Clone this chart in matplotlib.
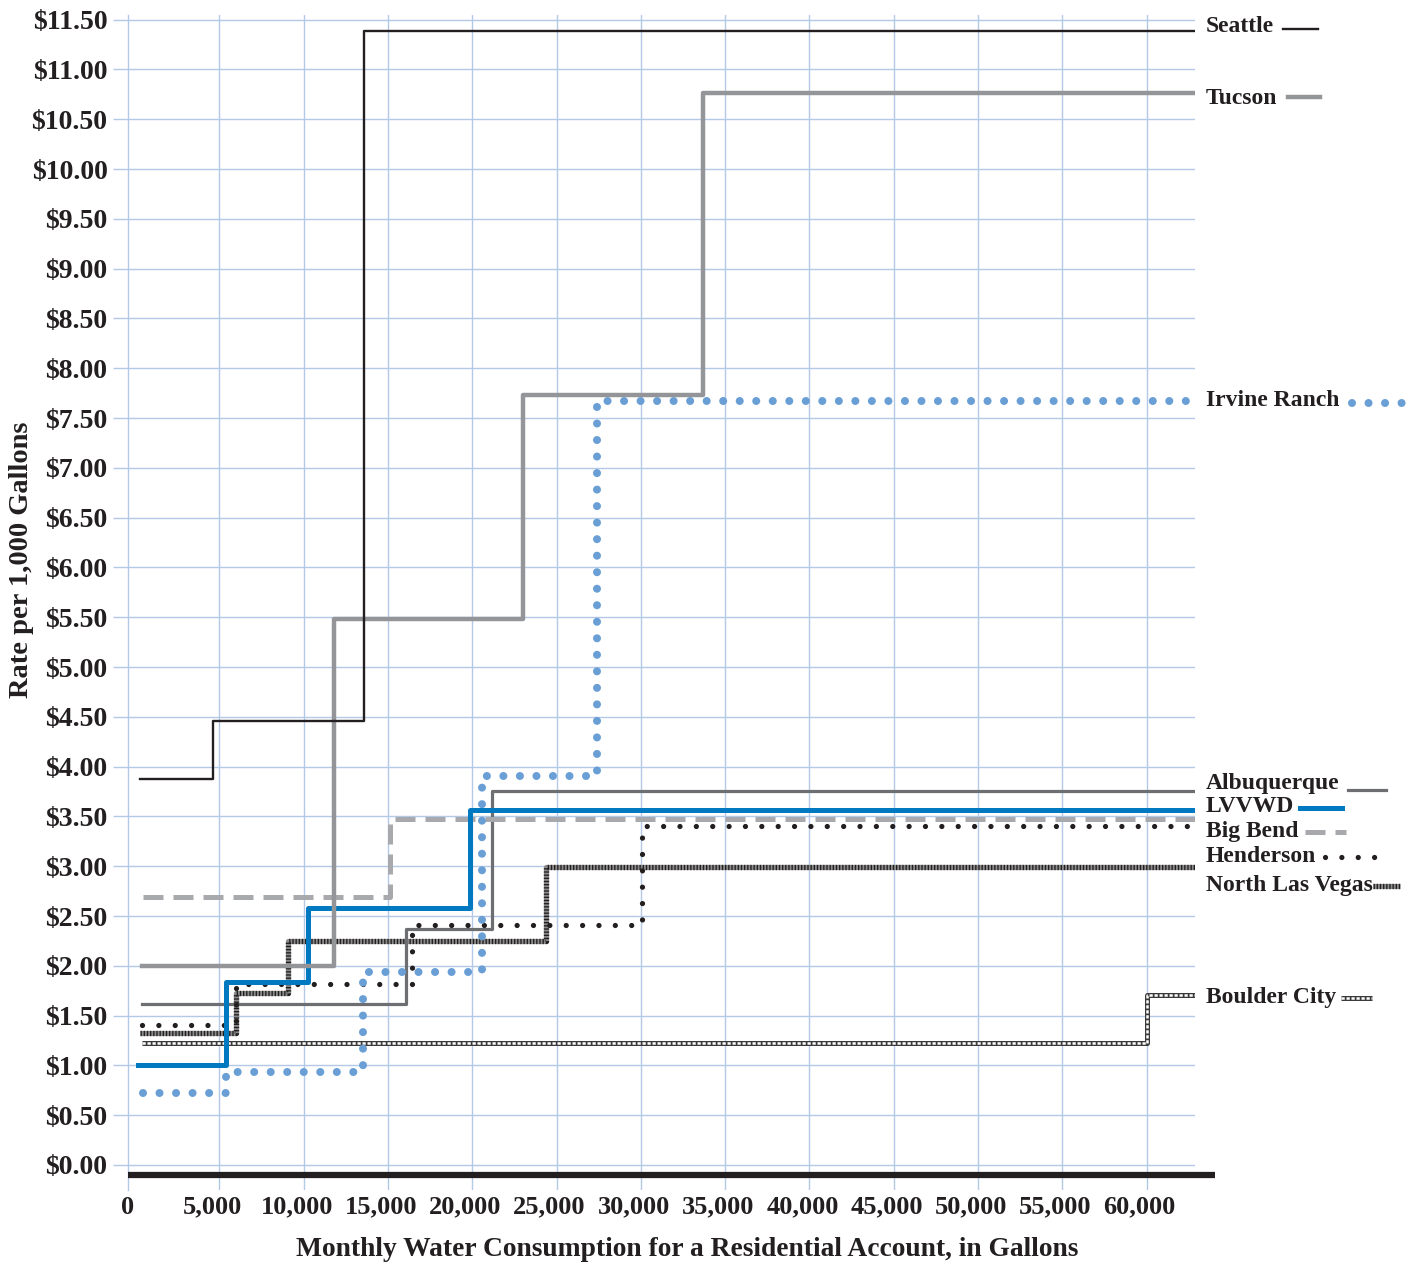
import numpy as np
import matplotlib
matplotlib.use("Agg")
import matplotlib.pyplot as plt
from matplotlib.transforms import ScaledTranslation, IdentityTransform
from matplotlib.lines import Line2D

plt.rcParams['font.family'] = ['Liberation Serif', 'DejaVu Serif']
plt.rcParams['font.weight'] = 'bold'

# ---------------- data ----------------
x_end = 62900
x_ticks = [0, 5000, 10000, 15000, 20000, 25000, 30000, 35000, 40000,
           45000, 50000, 55000, 60000]
y_ticks = [0.0, 0.5, 1.0, 1.5, 2.0, 2.5, 3.0, 3.5, 4.0, 4.5, 5.0, 5.5,
           6.0, 6.5, 7.0, 7.5, 8.0, 8.5, 9.0, 9.5, 10.0, 10.5, 11.0, 11.5]

seattle_edges = [300, 4630, 13600, x_end]
seattle_rates = [3.88, 4.46, 11.39]

tucson_edges = [400, 11800, 23000, 33700, x_end]
tucson_rates = [2.00, 5.48, 7.73, 10.76]

irvine_edges = [470, 5400, 13500, 20600, 27400, x_end]
irvine_rates = [0.72, 0.93, 1.94, 3.91, 7.67]

lvvwd_edges = [200, 5400, 10250, 19850, x_end]
lvvwd_rates = [1.00, 1.84, 2.58, 3.56]

bigbend_edges = [470, 15100, x_end]
bigbend_rates = [2.69, 3.47]

albuq_edges = [400, 16050, 21200, x_end]
albuq_rates = [1.62, 2.37, 3.76]

henderson_edges = [400, 6000, 16400, 30100, x_end]
henderson_rates = [1.41, 1.82, 2.41, 3.40]

nlv_edges = [300, 6000, 9050, 24400, x_end]
nlv_rates = [1.33, 1.73, 2.25, 2.99]

boulder_edges = [400, 60000, x_end]
boulder_rates = [1.22, 1.71]

# ---------------- figure ----------------
W, H = 1419, 1267
fig = plt.figure(figsize=(W / 100, H / 100), dpi=100)
ax_l, ax_r, ax_t, ax_b = 128, 1195, 15, 1190
ax = fig.add_axes([ax_l / W, 1 - ax_b / H, (ax_r - ax_l) / W, (ax_b - ax_t) / H])

px_per_x = 84.3 / 5000.0
x0_px = 135
ax.set_xlim((ax_l - x0_px) / px_per_x, (ax_r - x0_px) / px_per_x)
px_per_y = 99.6
ax.set_ylim(-(ax_b - 1165) / px_per_y, 11.5 + (1165 - 11.5 * px_per_y - ax_t) / px_per_y)

grid_c = '#b3c9e8'
ink = '#231f20'
for s in ['top', 'right', 'bottom']:
    ax.spines[s].set_visible(False)
ax.spines['left'].set_color(grid_c)
ax.spines['left'].set_linewidth(1.0)

ax.set_xticks(x_ticks)
ax.set_xticklabels([f"{v:,}" for v in x_ticks])
ax.set_yticks(y_ticks)
ax.set_yticklabels([f"${v:.2f}" for v in y_ticks])
ax.tick_params(axis='y', length=10.8, width=1.0, color=grid_c, pad=4,
               labelsize=20, labelcolor=ink)
ax.tick_params(axis='x', length=0, pad=4, labelsize=19, labelcolor=ink)
for lbl in ax.get_xticklabels():
    lbl.set_transform(lbl.get_transform() + ScaledTranslation(-7 / 100, 0, fig.dpi_scale_trans))

for xv in x_ticks[1:]:
    ax.axvline(xv, color=grid_c, lw=1.0, zorder=0)
for yv in y_ticks:
    ax.axhline(yv, color=grid_c, lw=1.0, zorder=0)

# baseline
ax.axhline(-0.1, xmin=0, xmax=(1215 - ax_l) / (ax_r - ax_l), color=ink,
           lw=4.5, clip_on=False, zorder=5, solid_capstyle='butt')


def step_xy(edges, rates):
    e = np.asarray(edges, float)
    r = np.asarray(rates, float)
    xs = np.repeat(e, 2)[1:-1]
    ys = np.repeat(r, 2)
    return xs, ys


styles = {}
styles['boulder'] = [dict(color='#3a3a3a', lw=3.6, solid_capstyle='butt'),
                     dict(color='white', lw=1.8, linestyle=(0, (1.3, 0.7)), dash_capstyle='butt')]
styles['nlv'] = [dict(color='#8a8a8a', lw=3.8, solid_capstyle='butt'),
                 dict(color=ink, lw=3.8, linestyle=(0, (0.25, 0.35)), dash_capstyle='butt')]
styles['albuq'] = [dict(color='#6d6e71', lw=2.3)]
styles['henderson'] = [dict(color=ink, lw=3.8, linestyle=(0, (0.001, 3.1)), dash_capstyle='round')]
styles['bigbend'] = [dict(color='#a7a9ac', lw=3.6, linestyle=(0, (4, 2)), dash_capstyle='butt')]
styles['lvvwd'] = [dict(color='#0079c1', lw=3.6)]
styles['irvine'] = [dict(color='#6a9fd6', lw=5.8, linestyle=(0, (0.001, 2.05)), dash_capstyle='round')]
styles['tucson'] = [dict(color='#939598', lw=3.2)]
styles['seattle'] = [dict(color=ink, lw=1.7)]

series = [
    ('boulder', boulder_edges, boulder_rates),
    ('nlv', nlv_edges, nlv_rates),
    ('albuq', albuq_edges, albuq_rates),
    ('henderson', henderson_edges, henderson_rates),
    ('bigbend', bigbend_edges, bigbend_rates),
    ('lvvwd', lvvwd_edges, lvvwd_rates),
    ('irvine', irvine_edges, irvine_rates),
    ('tucson', tucson_edges, tucson_rates),
    ('seattle', seattle_edges, seattle_rates),
]
for i, (key, e, r) in enumerate(series):
    xs, ys = step_xy(e, r)
    for st in styles[key]:
        ax.plot(xs, ys, zorder=3 + i * 0.1, **st)

# ---------------- labels on the right ----------------
legend_items = [
    ('Seattle', 'seattle', 26, 1283, 1318),
    ('Tucson', 'tucson', 99, 1288, 1320),
    ('Irvine Ranch', 'irvine', 401, 1352, 1402),
    ('Albuquerque', 'albuq', 784, 1348, 1386),
    ('LVVWD', 'lvvwd', 807, 1300, 1342),
    ('Big Bend', 'bigbend', 831, 1305, 1346),
    ('Henderson', 'henderson', 856, 1325, 1380),
    ('North Las Vegas', 'nlv', 885, 1373, 1400),
    ('Boulder City', 'boulder', 997, 1341, 1372),
]
sample_dy = {'albuq': 6, 'seattle': 3, 'tucson': -2, 'irvine': 2}
for name, key, ypx, x1, x2 in legend_items:
    fig.text(1206 / W, 1 - ypx / H, name, ha='left', va='center', fontsize=17,
             color=ink)
    yy = H - (ypx + sample_dy.get(key, 1))
    for st in styles[key]:
        ln = Line2D([x1, x2], [yy, yy], transform=IdentityTransform(), **st)
        fig.add_artist(ln)

fig.text(687 / W, 1 - 1249 / H,
         'Monthly Water Consumption for a Residential Account, in Gallons',
         ha='center', va='center', fontsize=19.8, fontweight='bold', color=ink)
fig.text(22 / W, 1 - 560 / H, 'Rate per 1,000 Gallons', rotation=90,
         ha='center', va='center', fontsize=20.5, fontweight='bold', color=ink)

fig.savefig('out.png', dpi=100)
